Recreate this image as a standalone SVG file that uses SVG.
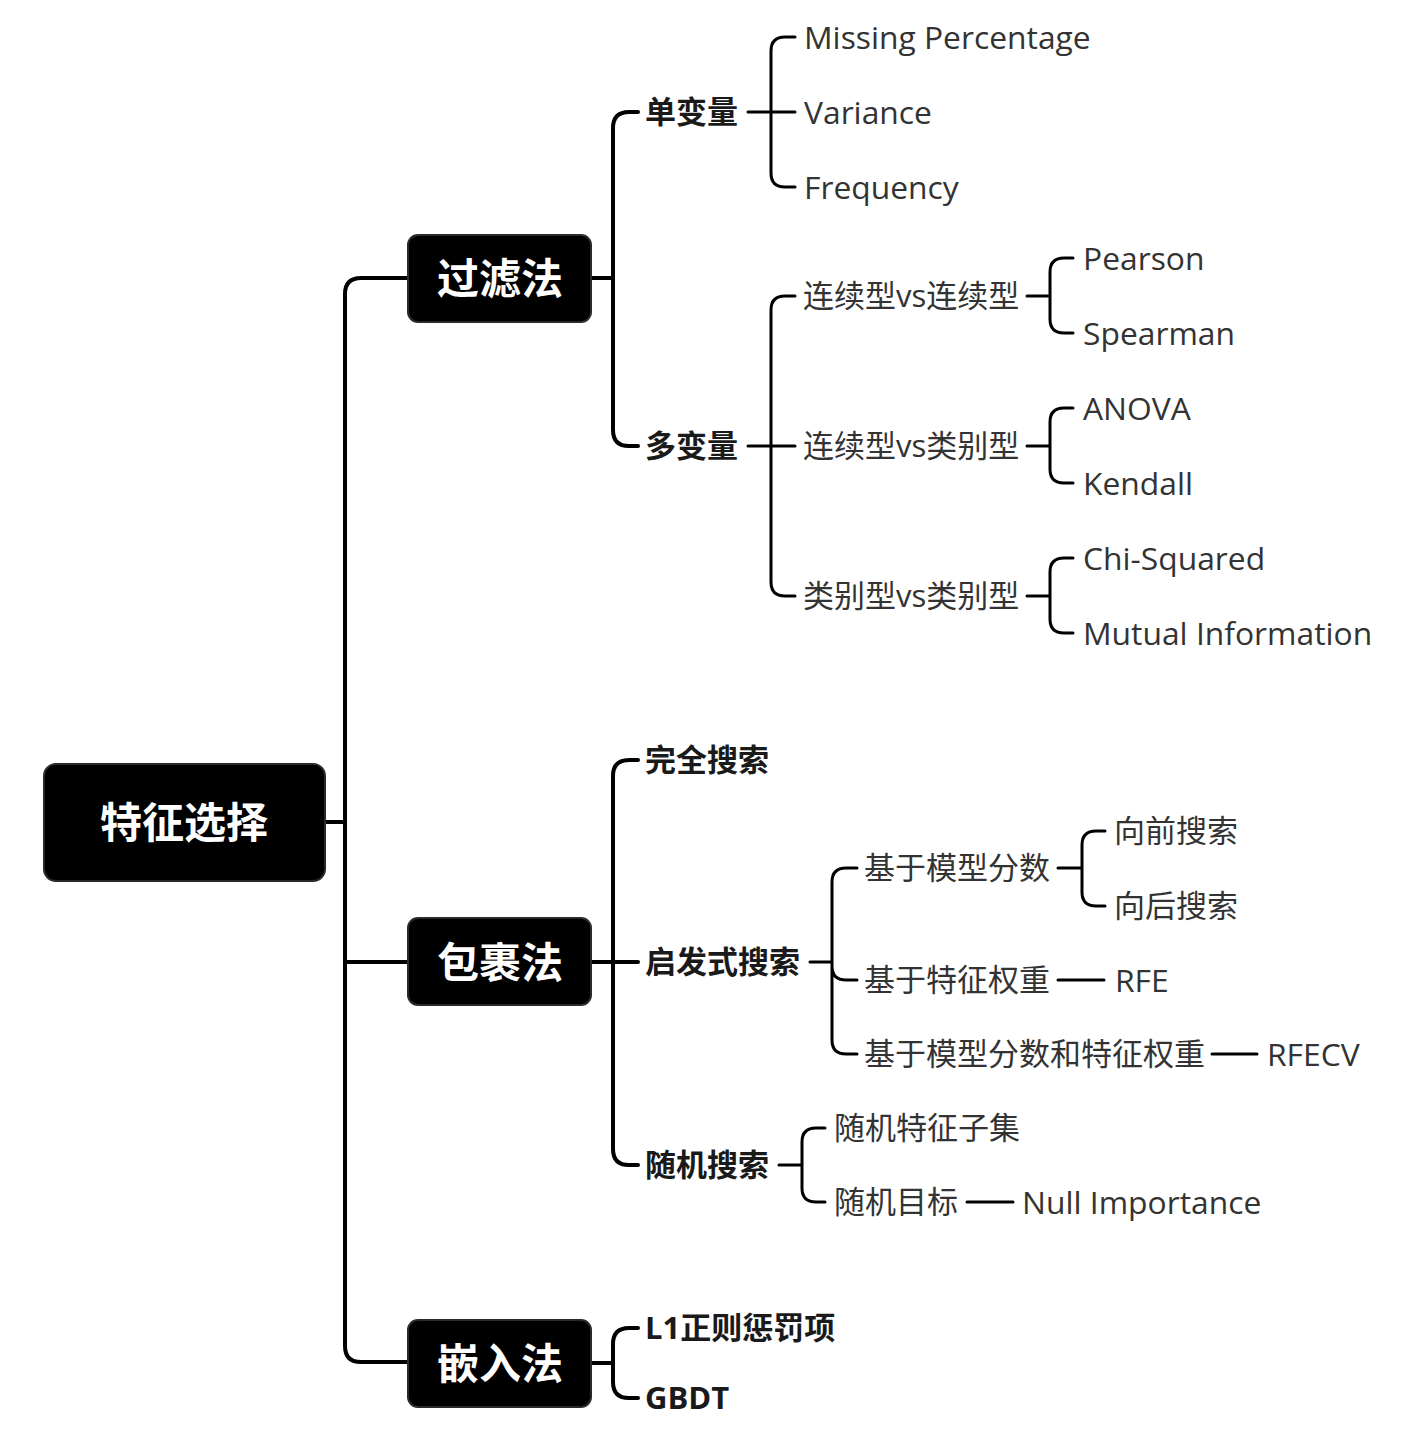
<svg xmlns="http://www.w3.org/2000/svg" width="1424" height="1454" viewBox="0 0 1424 1454">
<style>
.node rect{fill:#000;stroke:#2a2a2a;stroke-width:2}
.title{font-family:"Open Sans","Noto Sans CJK SC",sans-serif;font-weight:bold;font-size:42px;fill:#fff;text-anchor:middle;dominant-baseline:central}
.l2{font-family:"Open Sans","Noto Sans CJK SC",sans-serif;font-weight:bold;font-size:31px;fill:#1a1a1a;dominant-baseline:central}
.l3{font-family:"Open Sans","Noto Sans CJK SC",sans-serif;font-size:31px;fill:#333;dominant-baseline:central}
.lat{font-size:31.8px}
.c1{fill:none;stroke:#000;stroke-width:4;stroke-linecap:round;stroke-linejoin:round}
.c2{fill:none;stroke:#000;stroke-width:3;stroke-linecap:round;stroke-linejoin:round}
</style>
<rect width="1424" height="1454" fill="#fff"/>
<g id="connectors">
<path class="c1" d="M325,822 H345 M408,278 H361 Q345,278 345,294 V1346 Q345,1362 361,1362 H408 M345,962 H408"/>
<path class="c1" d="M591,278 H613 M638,112 H629 Q613,112 613,128 V430 Q613,446 629,446 H638"/>
<path class="c2" d="M748,112 H795 M795,37 H785 Q771,37 771,51 V173 Q771,187 785,187 H795"/>
<path class="c2" d="M748,446 H795 M795,296 H785 Q771,296 771,310 V582 Q771,596 785,596 H795"/>
<path class="c2" d="M1027,296 H1050 M1073,258 H1064 Q1050,258 1050,272 V319 Q1050,333 1064,333 H1073"/>
<path class="c2" d="M1027,446 H1050 M1073,408 H1064 Q1050,408 1050,422 V469 Q1050,483 1064,483 H1073"/>
<path class="c2" d="M1027,596 H1050 M1073,558 H1064 Q1050,558 1050,572 V619 Q1050,633 1064,633 H1073"/>
<path class="c1" d="M591,962 H638 M638,760 H629 Q613,760 613,776 V1149 Q613,1165 629,1165 H638"/>
<path class="c2" d="M810,962 H832 M857,868 H846 Q832,868 832,882 V1040 Q832,1054 846,1054 H857 M832,966 Q832,980 846,980 H857"/>
<path class="c2" d="M1058,868 H1082 M1105,831 H1096 Q1082,831 1082,845 V892 Q1082,906 1096,906 H1105"/>
<path class="c2" d="M1058,980 H1104"/>
<path class="c2" d="M1212,1054 H1257"/>
<path class="c2" d="M779,1165 H802 M825,1128 H816 Q802,1128 802,1142 V1188 Q802,1202 816,1202 H825"/>
<path class="c2" d="M967,1202 H1013"/>
<path class="c1" d="M591,1363 H613 M638,1328 H629 Q613,1328 613,1344 V1382 Q613,1398 629,1398 H638"/>
</g>
<g id="root" class="node"><rect x="44" y="764" width="281" height="117" rx="12"/><text class="title" x="184" y="821">特征选择</text></g>
<g id="filter" class="node"><rect x="408" y="235" width="183" height="87" rx="10"/><text class="title" x="500" y="277">过滤法</text></g>
<g id="wrapper" class="node"><rect x="408" y="918" width="183" height="87" rx="10"/><text class="title" x="500" y="961">包裹法</text></g>
<g id="embedded" class="node"><rect x="408" y="1320" width="183" height="87" rx="10"/><text class="title" x="500" y="1362">嵌入法</text></g>
<g id="univariate"><text class="l2" x="645" y="111">单变量</text></g>
<g id="missing"><text class="l3 lat" x="804" y="36">Missing Percentage</text></g>
<g id="variance"><text class="l3 lat" x="804" y="111">Variance</text></g>
<g id="frequency"><text class="l3 lat" x="804" y="186">Frequency</text></g>
<g id="multivariate"><text class="l2" x="645" y="445">多变量</text></g>
<g id="cc"><text class="l3" x="803" y="295">连续型vs连续型</text></g>
<g id="pearson"><text class="l3 lat" x="1083" y="257">Pearson</text></g>
<g id="spearman"><text class="l3 lat" x="1083" y="332">Spearman</text></g>
<g id="cd"><text class="l3" x="803" y="445">连续型vs类别型</text></g>
<g id="anova"><text class="l3 lat" x="1083" y="407">ANOVA</text></g>
<g id="kendall"><text class="l3 lat" x="1083" y="482">Kendall</text></g>
<g id="dd"><text class="l3" x="803" y="595">类别型vs类别型</text></g>
<g id="chi"><text class="l3 lat" x="1083" y="557">Chi-Squared</text></g>
<g id="mi"><text class="l3 lat" x="1083" y="632">Mutual Information</text></g>
<g id="complete"><text class="l2" x="645" y="759">完全搜索</text></g>
<g id="heuristic"><text class="l2" x="645" y="961">启发式搜索</text></g>
<g id="modelscore"><text class="l3" x="864" y="867">基于模型分数</text></g>
<g id="forward"><text class="l3" x="1114" y="830">向前搜索</text></g>
<g id="backward"><text class="l3" x="1114" y="905">向后搜索</text></g>
<g id="featweight"><text class="l3" x="864" y="979">基于特征权重</text></g>
<g id="rfe"><text class="l3 lat" x="1115" y="979">RFE</text></g>
<g id="both"><text class="l3" x="864" y="1053">基于模型分数和特征权重</text></g>
<g id="rfecv"><text class="l3 lat" x="1267" y="1053">RFECV</text></g>
<g id="random"><text class="l2" x="645" y="1164">随机搜索</text></g>
<g id="randsubset"><text class="l3" x="834" y="1127">随机特征子集</text></g>
<g id="randtarget"><text class="l3" x="834" y="1201">随机目标</text></g>
<g id="nullimp"><text class="l3 lat" x="1022" y="1201">Null Importance</text></g>
<g id="l1"><text class="l2" x="645" y="1327">L1正则惩罚项</text></g>
<g id="gbdt"><text class="l2" x="645" y="1397">GBDT</text></g>
</svg>
